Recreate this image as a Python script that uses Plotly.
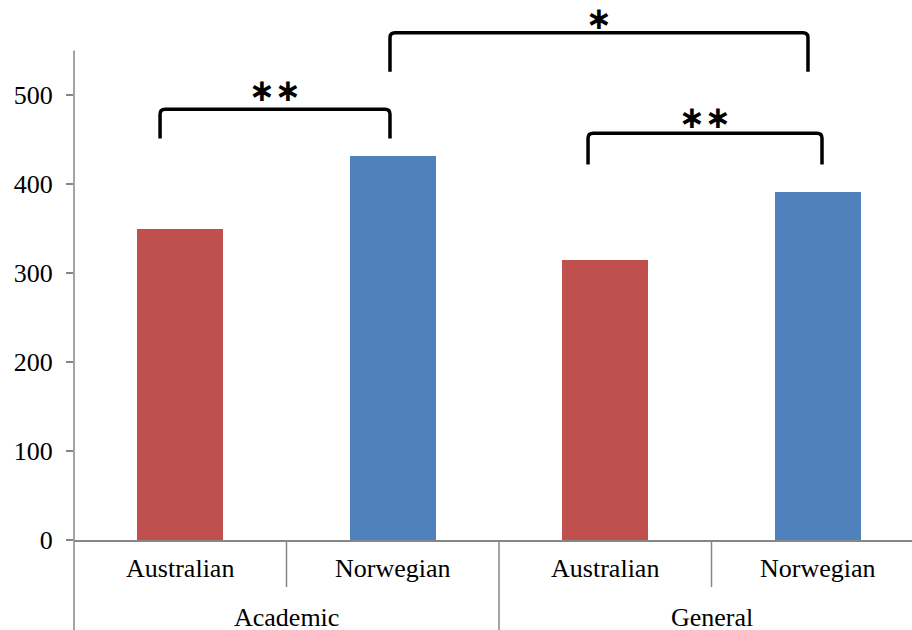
import plotly.graph_objects as go

# ---- data ----
groups = ["Academic", "General"]
categories = ["Australian", "Norwegian", "Australian", "Norwegian"]
values = [350, 431, 315, 391]
bar_colors = ["#C0504D", "#4F81BD", "#C0504D", "#4F81BD"]
y_ticks = [0, 100, 200, 300, 400, 500]

# significance brackets: (x_left, x_right, y_top, y_bottom, label_y, label)
brackets = [
    (-0.095, 0.987, 484, 451, 504, "∗∗"),
    (0.987, 2.954, 570, 526, 585, "∗"),
    (1.919, 3.020, 457, 422, 474, "∗∗"),
]

W, H = 912, 630
ML, MB, MT = 74, 90, 0
plot_w = W - ML
plot_h = H - MB - MT
cat_px = 212.5
px_per_unit = 0.89
x_range = [-0.5, -0.5 + plot_w / cat_px]
y_max = plot_h / px_per_unit
axis_top_val = 550

GRAY = "#868686"
FONT = "Liberation Serif"

xs = list(range(len(categories)))
fig = go.Figure(go.Bar(x=xs, y=values, marker=dict(color=bar_colors, line=dict(width=0)),
                       width=0.405, showlegend=False))

shapes = []
# y axis line (extends down through the category area)
shapes.append(dict(type="line", xref="paper", yref="paper", x0=0, x1=0,
                   y0=axis_top_val / y_max, y1=-MB / plot_h,
                   line=dict(color=GRAY, width=1.5)))
# category separators
for b in [0.5, 2.5]:
    shapes.append(dict(type="line", xref="x", yref="paper", x0=b, x1=b,
                       y0=0, y1=-47 / plot_h, line=dict(color=GRAY, width=1.5)))
shapes.append(dict(type="line", xref="x", yref="paper", x0=1.5, x1=1.5,
                   y0=0, y1=-MB / plot_h, line=dict(color=GRAY, width=1.5)))

annotations = []
rx = 5 / cat_px
ry = 5 / px_per_unit
for (x0, x1, yt, yb, ly, lab) in brackets:
    path = (f"M {x0},{yb} L {x0},{yt-ry} Q {x0},{yt} {x0+rx},{yt} "
            f"L {x1-rx},{yt} Q {x1},{yt} {x1},{yt-ry} L {x1},{yb}")
    shapes.append(dict(type="path", xref="x", yref="y", path=path,
                       line=dict(color="black", width=3.5)))
    annotations.append(dict(x=(x0 + x1) / 2, y=ly, xref="x", yref="y", text=f"<b>{lab}</b>",
                            showarrow=False, yanchor="middle", yshift=1,
                            font=dict(family="DejaVu Sans", size=31, color="black")))

for gi, g in enumerate(groups):
    annotations.append(dict(x=gi * 2 + 0.5, y=-(617 - 540) / plot_h, xref="x", yref="paper",
                            text=g, showarrow=False, yanchor="middle",
                            font=dict(family=FONT, size=26, color="black")))

fig.update_layout(
    width=W, height=H,
    margin=dict(l=ML, r=0, t=MT, b=MB),
    paper_bgcolor="white", plot_bgcolor="white",
    bargap=0,
    xaxis=dict(range=x_range, tickvals=xs, ticktext=categories, showgrid=False,
               zeroline=False, showline=True, linecolor=GRAY, linewidth=1.5,
               ticks="", ticklabelstandoff=4,
               tickfont=dict(family=FONT, size=26, color="black")),
    yaxis=dict(range=[0, y_max], tickvals=y_ticks, showgrid=False, zeroline=False,
               showline=False, ticks="outside", ticklen=7, tickcolor=GRAY, tickwidth=1.5,
               ticklabelstandoff=8,
               tickfont=dict(family=FONT, size=26, color="black")),
    shapes=shapes, annotations=annotations,
)

fig.write_html("out.html")
